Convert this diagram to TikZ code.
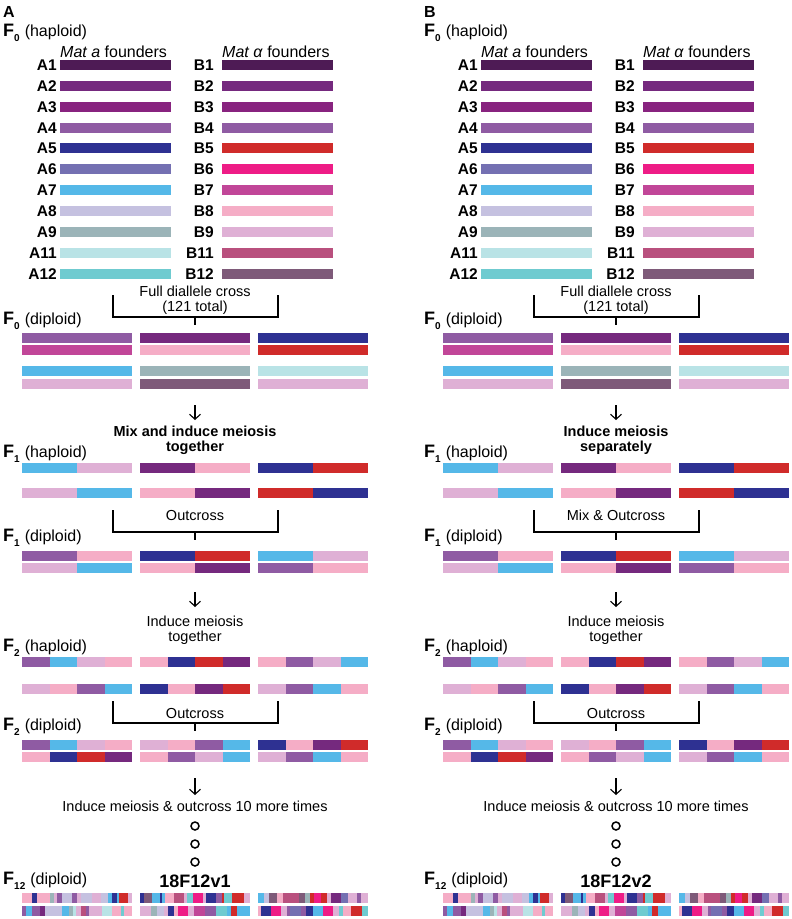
\documentclass[tikz,border=0pt]{standalone}
\usepackage{fontspec}
\setmainfont{Liberation Sans}
\usetikzlibrary{arrows.meta}

% founder colours
\definecolor{cA1}{HTML}{4E1B55}
\definecolor{cA2}{HTML}{75297E}
\definecolor{cA3}{HTML}{88237F}
\definecolor{cA4}{HTML}{8F5BA3}
\definecolor{cA5}{HTML}{2E3192}
\definecolor{cA6}{HTML}{7470B2}
\definecolor{cA7}{HTML}{55B8E8}
\definecolor{cA8}{HTML}{C5C1E0}
\definecolor{cA9}{HTML}{9BB4B8}
\definecolor{cA11}{HTML}{B9E3E6}
\definecolor{cA12}{HTML}{6FCBD0}
\definecolor{cB5}{HTML}{D02B2A}
\definecolor{cB6}{HTML}{EE1C86}
\definecolor{cB7}{HTML}{C14698}
\definecolor{cB8}{HTML}{F5ADC6}
\definecolor{cB9}{HTML}{DFB0D5}
\definecolor{cB11}{HTML}{B9507E}
\definecolor{cB12}{HTML}{7E5A79}

% a chromosome bar of equal blocks: left x, top y, colours
\newcommand\chrom[3]{%
  \foreach \c [count=\k] in {#3} {\xdef\nseg{\k}}%
  \foreach \c [count=\k] in {#3}
    {\fill[\c] ({#1+(\k-1)*110/\nseg},#2) rectangle ++({110/\nseg},10);}%
}
% a mosaic bar: left x, top y, list colour/width
\newcommand\mosaic[3]{%
  \gdef\mtot{0}%
  \foreach \c/\w in #3 {\pgfmathparse{\mtot+\w}\xdef\mtot{\pgfmathresult}}%
  \gdef\mpos{0}%
  \foreach \c/\w in #3 {%
    \fill[\c] ({#1+\mpos*110/\mtot},#2) rectangle ++({\w*110/\mtot},10);
    \pgfmathparse{\mpos+\w}\xdef\mpos{\pgfmathresult}}%
}
\newcommand\gen[2]{{\fontsize{18}{18}\selectfont\bfseries F}\raisebox{-5pt}{\fontsize{10}{10}\selectfont\bfseries #1}\hspace{5pt}{\fontsize{16}{16}\selectfont (#2)}}

\newcommand\mosAa{cB8/9,cA5/5,cB8/11,cA9/4,cB9/3,cA4/4,cA8/9,cA4/5,cB9/4,cA8/10,cB9/8,cA8/6,cA7/4,cA5/4,cA7/2,cB5/8,cB9/4}
\newcommand\mosAb{cA4/3,cA7/5,cA4/6,cA2/4,cA8/14,cA7/5,cA9/3,cA11/3,cB9/4,cB11/4,cA4/2,cB9/10,cA11/8,cB8/7,cA12/3,cB8/6}
\newcommand\mosBa{cA5/3,cB12/7,cA7/7,cA5/2,cA7/2,cB8/8,cB11/8,cB9/3,cA12/5,cB6/8,cB9/3,cA5/8,cA4/5,cB5/2,cA12/7,cB5/10,cB9/5}
\newcommand\mosBb{cB9/8,cA9/5,cA8/5,cB9/3,cA5/5,cB8/3,cB6/7,cB9/5,cB7/8,cA4/8,cA12/9,cA7/3,cB5/4,cA7/10}
\newcommand\mosCa{cA7/5,cA8/4,cB12/7,cB8/5,cB11/14,cB12/5,cA9/4,cB5/3,cB6/6,cB5/5,cB9/4,cA2/8,cA6/6,cB9/8,cA4/3,cB9/6}
\newcommand\mosCb{cB8/2,cA5/7,cB6/7,cB9/4,cA4/2,cA6/8,cA4/3,cA5/5,cA7/7,cB6/7,cB9/4,cA12/3,cB8/5,cB5/8,cA12/4}

\begin{document}
\begin{tikzpicture}[x=1pt, y=-1pt,
  txt/.style={inner sep=0, font=\fontsize{14.5}{15}\selectfont},
  boldtxt/.style={inner sep=0, font=\fontsize{14.5}{15}\selectfont\bfseries},
  genlab/.style={inner sep=0, anchor=base west},
  founder/.style={inner sep=0, anchor=base east, font=\fontsize{15.5}{16}\selectfont\bfseries},
  bracket/.style={line width=1.3pt},
  down/.style={line width=1.1pt, -{Straight Barb[length=5pt,width=11pt]}},
  dot/.style={circle, draw, line width=1.5pt, minimum size=8pt, inner sep=0}]
\useasboundingbox (0,0) rectangle (792,919);

\foreach \p/\dx/\mixa/\mixb/\oc/\nm in {A/0/Mix and induce meiosis/together/Outcross/18F12v1,
    B/421/Induce meiosis/separately/Mix \& Outcross/18F12v2}{
\begin{scope}[xshift=\dx pt]
\node [inner sep=0, anchor=base west, font=\fontsize{16}{16}\selectfont\bfseries] (\p-tag) at (3,17.5) {\p};

% F0 haploid founders
\node [genlab] (\p-g0h) at (3,36) {\gen{0}{haploid}};
\node [inner sep=0, anchor=base west, font=\fontsize{16}{16}\selectfont] (\p-mata) at (60,57) {\textit{Mat a} founders};
\node [inner sep=0, anchor=base west, font=\fontsize{16}{16}\selectfont] (\p-matb) at (222,57) {\textit{Mat α} founders};
\foreach \n/\ca/\cb [count=\i] in {1/cA1/cA1, 2/cA2/cA2, 3/cA3/cA3, 4/cA4/cA4, 5/cA5/cB5, 6/cA6/cB6,
    7/cA7/cB7, 8/cA8/cB8, 9/cA9/cB9, 11/cA11/cB11, 12/cA12/cB12}{
  \pgfmathsetmacro\yt{60+(\i-1)*20.85}
  \fill [\ca] (60,\yt) rectangle ++(111,10);
  \fill [\cb] (222,\yt) rectangle ++(111,10);
  \node [founder] (\p-A\n) at (57,\yt+10.5) {A\n};
  \node [founder] (\p-B\n) at (214,\yt+10.5) {B\n};
}

\node [txt, anchor=base] (\p-full) at (195,296) {Full diallele cross};
\node [txt, anchor=base] (\p-tot) at (195,311) {(121 total)};
\draw [bracket] (113,295) |- (278,317) -- (278,295);
\draw [bracket] (195,317) -- (195,325);

% F0 diploid
\node [genlab] (\p-g0d) at (3,324) {\gen{0}{diploid}};
\foreach \x/\ca/\cb/\cc/\cd in {22/cA4/cB7/cA7/cB9, 140/cA2/cB8/cA9/cB12, 258/cA5/cB5/cA11/cB9}{
  \chrom{\x}{332.5}{\ca} \chrom{\x}{345}{\cb}
  \chrom{\x}{366}{\cc} \chrom{\x}{378.5}{\cd}
}

\coordinate (\p-s1) at (195,405); \coordinate (\p-e1) at (195,420);
\draw [down] (\p-s1) -- (\p-e1);
\node [boldtxt, anchor=base] (\p-mix1) at (195,436) {\mixa};
\node [boldtxt, anchor=base] (\p-mix2) at (195,451) {\mixb};

% F1 haploid
\node [genlab] (\p-g1h) at (3,457) {\gen{1}{haploid}};
\chrom{22}{463}{cA7,cB9} \chrom{140}{463}{cA2,cB8} \chrom{258}{463}{cA5,cB5}
\chrom{22}{488}{cB9,cA7} \chrom{140}{488}{cB8,cA2} \chrom{258}{488}{cB5,cA5}

\node [txt, anchor=base] (\p-oc1) at (195,520) {\oc};
\draw [bracket] (113,510) |- (278,532) -- (278,510);
\draw [bracket] (195,532) -- (195,540);

% F1 diploid
\node [genlab] (\p-g1d) at (3,541) {\gen{1}{diploid}};
\chrom{22}{551}{cA4,cB8} \chrom{140}{551}{cA5,cB5} \chrom{258}{551}{cA7,cB9}
\chrom{22}{563}{cB9,cA7} \chrom{140}{563}{cB8,cA2} \chrom{258}{563}{cA4,cB8}

\coordinate (\p-s2) at (195,592); \coordinate (\p-e2) at (195,607);
\draw [down] (\p-s2) -- (\p-e2);
\node [txt, anchor=base] (\p-mei1) at (195,626) {Induce meiosis};
\node [txt, anchor=base] (\p-mei2) at (195,641) {together};

% F2 haploid
\node [genlab] (\p-g2h) at (3,651) {\gen{2}{haploid}};
\chrom{22}{657}{cA4,cA7,cB9,cB8} \chrom{140}{657}{cB8,cA5,cB5,cA2} \chrom{258}{657}{cB8,cA4,cB9,cA7}
\chrom{22}{684}{cB9,cB8,cA4,cA7} \chrom{140}{684}{cA5,cB8,cA2,cB5} \chrom{258}{684}{cB9,cA4,cA7,cB8}

\node [txt, anchor=base] (\p-oc2) at (195,718) {Outcross};
\draw [bracket] (113,701) |- (278,723) -- (278,701);
\draw [bracket] (195,723) -- (195,731);

% F2 diploid
\node [genlab] (\p-g2d) at (3,730) {\gen{2}{diploid}};
\chrom{22}{739.5}{cA4,cA7,cB9,cB8} \chrom{140}{739.5}{cB9,cB8,cA4,cA7} \chrom{258}{739.5}{cA5,cB8,cA2,cB5}
\chrom{22}{752}{cB8,cA5,cB5,cA2} \chrom{140}{752}{cB8,cA4,cB9,cA7} \chrom{258}{752}{cB9,cA4,cA7,cB8}

\coordinate (\p-s3) at (195,778); \coordinate (\p-e3) at (195,795);
\draw [down] (\p-s3) -- (\p-e3);
\node [txt, anchor=base] (\p-more) at (195,811) {Induce meiosis \& outcross 10 more times};
\node [dot] (\p-d1) at (195,826) {};
\node [dot] (\p-d2) at (195,844) {};
\node [dot] (\p-d3) at (195,862) {};

% F12 diploid
\node [genlab] (\p-g12d) at (3,884) {\gen{12}{diploid}};
\node [inner sep=0, anchor=base, font=\fontsize{18}{18}\selectfont\bfseries] (\p-name) at (195,887) {\nm};
\mosaic{22}{893}{\mosAa} \mosaic{140}{893}{\mosBa} \mosaic{258}{893}{\mosCa}
\mosaic{22}{906}{\mosAb} \mosaic{140}{906}{\mosBb} \mosaic{258}{906}{\mosCb}
\end{scope}
}
\end{tikzpicture}
\end{document}
